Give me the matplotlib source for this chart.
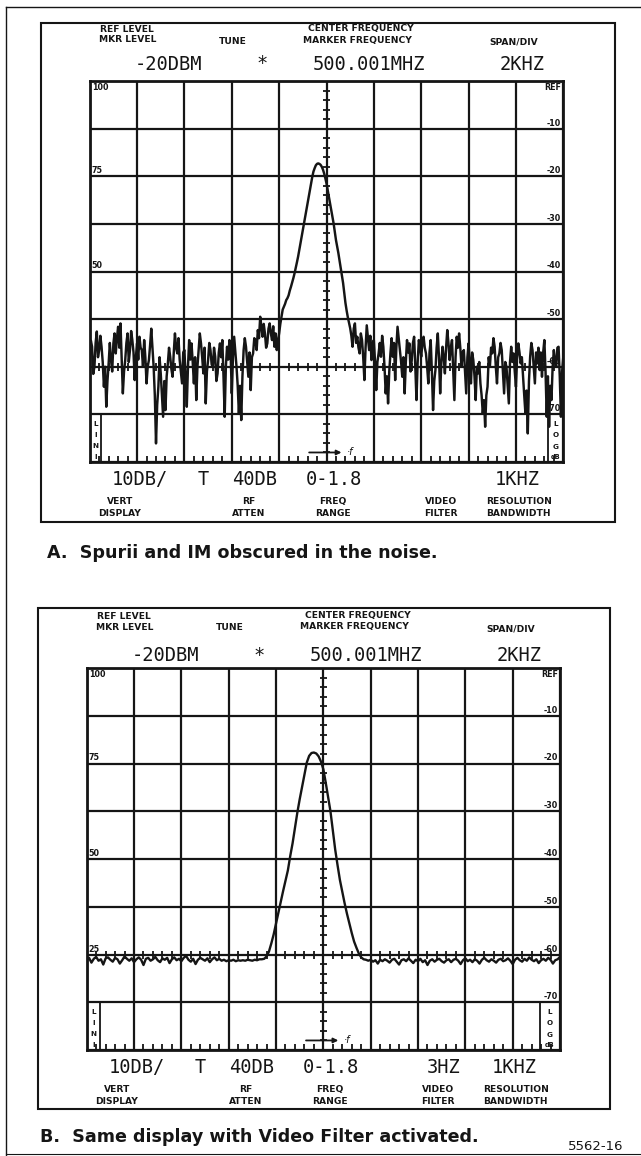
import numpy as np
import matplotlib
matplotlib.use("Agg")
import matplotlib.pyplot as plt
from matplotlib.lines import Line2D
from matplotlib.patches import Rectangle
from matplotlib.collections import LineCollection

W, H, DPI = 641, 1156, 100
INK = "#151515"

# ---------------- data (dB relative to REF = -20 dBm, 10 dB/div; 2 kHz/div) ----------------
f_start_khz, f_stop_khz = -10.0, 10.0

# Panel A: no video filter (noisy), sampled every 0.05 kHz from -10 to +10 kHz
level_a = [
    -58, -54.5, -55.8, -61.5, -60, -55, -52.6, -58, -56.5, -53.5,
    -55.8, -59, -64.2, -60, -68.4, -63, -59.3, -55, -58.6, -61,
    -55.1, -53, -57.2, -54, -51.6, -56, -50.9, -58, -65.6, -61,
    -58.6, -55, -53, -59, -56.5, -52.5, -54.4, -57, -62.8, -58,
    -55.1, -58.5, -53.7, -56, -56.5, -60, -54.4, -58, -63.5, -60,
    -58.6, -55.5, -52, -56, -60, -66, -76.1, -68, -64.2, -58,
    -61.4, -66, -70.5, -63, -69.1, -62, -59.3, -56, -57.9, -60.5,
    -62.1, -57, -53, -56, -57.2, -54, -58.6, -61, -63.5, -57,
    -56.5, -62, -68.4, -60, -54.4, -58.5, -55.1, -59, -63.5, -58,
    -67, -60, -56.5, -53, -55.1, -58, -61.4, -56, -67.7, -61,
    -58.6, -55, -56.5, -59.5, -60, -56, -57.9, -63, -61.4, -57,
    -55.1, -58, -54.4, -62, -70.5, -60, -55.8, -58.5, -54.4, -57,
    -65.6, -58, -53.7, -57, -60, -64, -69.8, -64, -71.2, -62,
    -56.5, -54, -55.8, -59, -62.1, -57, -64.9, -58, -57.2, -54,
    -54.4, -56.5, -52.3, -54, -49.5, -51.5, -53.7, -51, -53, -56,
    -55.1, -52, -50.9, -53, -54.4, -51.5, -55.8, -53, -56.5, -54.5,
    -53,
    -51.0, -49.5, -48.0, -47.4, -46.8, -46.0, -45.6, -45.0, -44.0, -43.2,
    -42.3, -41.4, -40.4, -39.3, -38.1, -36.9, -35.5, -34.0, -32.7, -31.3,
    -29.9, -28.5, -27.0, -25.6, -24.2, -22.9, -21.4, -20.1, -19.0, -18.3,
    -17.7, -17.4, -17.3, -17.4, -17.6, -18.0, -18.6, -19.4, -20.4, -21.5,
    -22.9, -24.3, -25.7, -27.1, -28.5, -29.9, -31.6, -33.4, -34.7, -36.1,
    -37.7, -39.3, -40.8, -42.4, -44.5, -46.6, -48.2, -49.6, -50.8, -51.9,
    -53.5, -55.8, -52, -50.9, -55, -53.7, -56, -57.2, -53, -54.4,
    -58, -62.8, -56, -51.3, -54, -56.5, -53.5, -58.6, -55, -54.4,
    -59, -64.9, -59, -57.2, -55, -57.9, -53.5, -55.8, -60, -65.6,
    -62, -67.7, -61, -57.2, -54, -57.9, -55, -62.8, -56, -51.6,
    -54, -56.5, -59, -62.1, -58, -65.6, -59, -54.4, -57, -55.1,
    -61, -58.6, -55, -53.7, -60, -67, -59, -54.4, -56, -57.9,
    -55, -53.7, -56, -57.2, -60, -63.5, -57, -54.4, -61, -69.1,
    -63, -60.7, -56, -53, -58, -65.6, -59, -55.8, -58, -61.4,
    -56, -52.3, -55, -58.6, -56, -54.4, -61, -67, -58, -53.7,
    -56, -53, -56, -60, -57, -56.5, -61, -65.6, -58, -55.1,
    -59, -63.5, -57, -58.6, -62, -67, -60, -61.4, -59, -63.5,
    -66, -69.8, -67, -72.6, -66, -64.2, -58, -60, -56, -57.2,
    -54, -55.8, -60, -63.5, -58, -57.2, -55, -56.5, -61, -65.6,
    -59, -60, -64, -67.7, -59, -55.8, -59, -57.2, -61, -64.2,
    -58, -55.1, -57, -59.3, -58, -62.1, -66, -69.8, -65, -74.0,
    -63, -57.9, -55, -56.5, -60, -63.5, -57, -59.3, -56, -60.7,
    -57, -62.1, -57, -54.4, -61, -70.5, -62, -72.6, -64, -67,
    -60, -56.5, -59, -60, -56, -55.8, -62, -70.5, -61, -57.9,
]

# Panel B: video filter activated, sampled every 0.1 kHz
level_b = [
    -61.2, -60.7, -61.7, -60.9, -60.5, -61.3, -61.0, -62.1, -60.8, -60.6,
    -61.1, -61.5, -60.7, -61.0, -61.9, -61.2, -60.4, -60.9, -61.3, -60.8,
    -61.6, -61.0, -60.6, -61.1, -62.2, -60.9, -60.7, -61.3, -61.0, -60.5,
    -61.2, -61.6, -60.8, -61.1, -60.7, -61.8, -61.0, -60.6, -61.2, -60.9,
    -61.4, -60.7, -60.3, -61.1, -61.5, -60.9, -62.0, -61.1, -60.7, -61.0,
    -61.3, -60.8, -61.6, -61.0, -60.6, -61.2, -60.9, -61.3, -61.1, -61.4,
    -61.2, -61.3, -61.1, -61.4, -61.2, -61.3, -61.2, -61.3, -61.1, -61.2,
    -61.3, -61.1, -61.2, -61.0,
    -61.0, -60.9, -60.4, -59.4, -57.7, -55.8, -53.5, -51.3, -49.0, -46.7,
    -44.5, -42.4, -39.4, -36.7, -33.5, -30.3, -27.5, -24.9, -22.2, -19.8,
    -18.4, -17.8, -17.7, -17.9, -18.5, -19.6, -21.2, -24.0, -27.0, -30.0,
    -34.0, -38.0, -41.3, -44.4, -46.9, -49.3, -51.5, -53.5, -55.5, -57.3,
    -58.6, -59.8, -60.6, -61.0, -61.1,
    -61.3, -61.1, -61.5, -61.2, -61.9, -61.1, -61.4, -61.0, -61.3, -61.7,
    -61.1, -60.9, -61.5, -62.1, -61.2, -61.0, -61.4, -60.8, -61.3, -61.8,
    -61.1, -61.4, -60.9, -61.6, -61.2, -62.2, -61.3, -61.0, -61.5, -61.1,
    -60.9, -61.4, -61.7, -61.2, -61.0, -61.6, -61.1, -60.9, -61.3, -62.0,
    -61.2, -60.8, -61.4, -61.1, -61.6, -61.0, -61.3, -61.9, -61.1, -60.7,
    -61.2, -61.5, -61.0, -61.3, -61.7, -61.1, -60.9, -61.4, -61.2, -60.8,
    -61.3, -62.0, -61.1, -60.7, -61.2, -61.5, -60.9, -61.3, -60.6, -61.1,
    -61.4, -61.0, -61.8, -61.2, -60.9, -61.3, -60.7, -61.1, -61.9, -61.2,
    -61.0, -60.5,
]

header_top = ["REF LEVEL", "CENTER FREQUENCY", "SPAN/DIV"]
header_bot = ["MKR LEVEL", "TUNE", "MARKER FREQUENCY"]
readout_top = ["-20DBM", "*", "500.001MHZ", "2KHZ"]
readout_bottom_a = ["10DB/", "T", "40DB", "0-1.8", "", "1KHZ"]
readout_bottom_b = ["10DB/", "T", "40DB", "0-1.8", "3HZ", "1KHZ"]
footer_top = ["VERT", "RF", "FREQ", "VIDEO", "RESOLUTION"]
footer_bot = ["DISPLAY", "ATTEN", "RANGE", "FILTER", "BANDWIDTH"]
left_scale = ["100", "75", "50", "25"]
right_scale = ["REF", "-10", "-20", "-30", "-40", "-50", "-60", "-70"]
caption_a = "A.  Spurii and IM obscured in the noise."
caption_b = "B.  Same display with Video Filter activated."
figure_id = "5562-16"

# ---------------- drawing ----------------
fig = plt.figure(figsize=(W / DPI, H / DPI), dpi=DPI)
fig.patch.set_facecolor("white")


def T(x, y, s, **kw):
    kw.setdefault("color", INK)
    return fig.text(x / W, 1 - y / H, s, **kw)


LBL = dict(family="DejaVu Sans", weight="bold", fontsize=6.6, ha="center", va="center")
MONO = dict(family="DejaVu Sans Mono", fontsize=13.5, ha="center", va="center")

# page border
fig.add_artist(Line2D([6 / W, 6 / W], [1 - 7 / H, 0], color=INK, lw=1.0))
fig.add_artist(Line2D([6 / W, 1], [1 - 7 / H, 1 - 7 / H], color=INK, lw=1.0))
fig.add_artist(Line2D([6 / W, 1], [1 - 1154 / H, 1 - 1154 / H], color=INK, lw=0.8))


def draw_panel(grid_box, frame_box, levels, bottom_vals, val_dy, n_left, n_right, lin_w, log_w, trace_lw):
    gl, gt, gr, gb = grid_box
    gw, gh = gr - gl, gb - gt
    fl, ft, fr, fb = frame_box
    fig.add_artist(Rectangle((fl / W, 1 - fb / H), (fr - fl) / W, (fb - ft) / H,
                             fill=False, ec=INK, lw=1.5))

    ax = fig.add_axes([gl / W, 1 - gb / H, gw / W, gh / H])
    ax.set_xlim(f_start_khz, f_stop_khz)
    ax.set_ylim(-80, 0)
    ax.set_xticks(np.arange(-10, 10.01, 2))
    ax.set_yticks(np.arange(-80, 0.01, 10))
    ax.grid(True, color=INK, lw=1.6)
    ax.tick_params(length=0, labelbottom=False, labelleft=False)
    for s in ax.spines.values():
        s.set_linewidth(2.0)
        s.set_color(INK)
    kx, ky = 20.0 / gw, 80.0 / gh

    segs = []
    for db in np.arange(-78, -1, 2):
        if db % 10:
            segs.append([(-3.5 * kx, db), (3.5 * kx, db)])
    for k in range(1, 50):
        f = -10 + 0.4 * k
        if k % 5:
            segs.append([(f, -60 - 4 * ky), (f, -60 + 4 * ky)])
            segs.append([(f, -80), (f, -80 + 6 * ky)])
    ax.add_collection(LineCollection(segs, colors=INK, lw=1.3))

    # LIN / LOG boxes
    ax.plot([-10 + lin_w * kx] * 2, [-70, -80], color=INK, lw=1.3)
    ax.plot([10 - log_w * kx] * 2, [-70, -80], color=INK, lw=1.3)
    small = dict(family="DejaVu Sans", weight="bold", fontsize=5.2, ha="center", va="center", color=INK)
    for i, ch in enumerate("LINI"):
        ax.text(-10 + lin_w / 2 * kx, -72.0 - 2.3 * i, ch, **small)
    for i, ch in enumerate("LOG"):
        ax.text(10 - log_w / 2 * kx, -72.0 - 2.4 * i, ch, **small)
    ax.text(10 - log_w / 2 * kx, -79.0, "dB", **dict(small, fontsize=4.8))

    # scale labels
    sl = dict(family="DejaVu Sans", weight="bold", fontsize=5.8, color=INK)
    ax.text(-10 + 2 * kx, -2 * ky, left_scale[0], ha="left", va="top", **sl)
    for i in range(1, n_left):
        ax.text(-10 + 2 * kx, -20 * i + 1 * ky, left_scale[i], ha="left", va="bottom", **sl)
    ax.text(10 - 2 * kx, -2 * ky, right_scale[0], ha="right", va="top", **sl)
    for i in range(1, n_right):
        ax.text(10 - 2 * kx, -10 * i + 1 * ky, right_scale[i], ha="right", va="bottom", **sl)

    # f arrow
    ax.annotate("", xy=(0.75, -78), xytext=(-0.85, -78),
                arrowprops=dict(arrowstyle="-|>", color=INK, lw=1.3, mutation_scale=7))
    ax.text(0.85, -78, "·f", ha="left", va="center", fontsize=7, style="italic", color=INK)

    freq = np.linspace(f_start_khz, f_stop_khz, len(levels))
    ax.plot(freq, levels, color=INK, lw=trace_lw)

    # header texts
    T(gl + 37.5, gt - 51.5, header_top[0], **LBL)
    T(gl + 37.5, gt - 41, header_bot[0], **LBL)
    T(gl + 143, gt - 40, header_bot[1], **LBL)
    T(gl + 271, gt - 52.5, header_top[1], **LBL)
    T(gl + 268, gt - 41, header_bot[2], **LBL)
    T(gl + 424, gt - 39, header_top[2], **LBL)
    for xo, s in zip([79, 172, 279, 432], readout_top):
        T(gl + xo, gt + val_dy, s, **MONO)

    # footer texts
    for xo, s in zip([50, 114, 165, 244, 357, 428], bottom_vals):
        if s:
            T(gl + xo, gb + 17.5, s, **MONO)
    for xo, s1, s2 in zip([30, 159, 243, 351, 429], footer_top, footer_bot):
        T(gl + xo, gb + 39.5, s1, **LBL)
        T(gl + xo, gb + 51, s2, **LBL)
    return ax


draw_panel((89.7, 81, 563.3, 462), (41, 23, 615, 522), level_a, readout_bottom_a, -17,
           3, 8, 11, 15, 1.75)
draw_panel((86.7, 668, 560, 1050), (37.6, 608, 610, 1109), level_b, readout_bottom_b, -12.5,
           4, 8, 13, 20, 1.7)

CAP = dict(family="DejaVu Sans", weight="bold", fontsize=12.6, ha="left", va="center")
T(47, 553, caption_a, **CAP)
T(40, 1137, caption_b, **CAP)
T(596, 1147, figure_id, family="DejaVu Sans", fontsize=9.5, ha="center", va="center")

fig.savefig("out.png", dpi=DPI, facecolor="white")
